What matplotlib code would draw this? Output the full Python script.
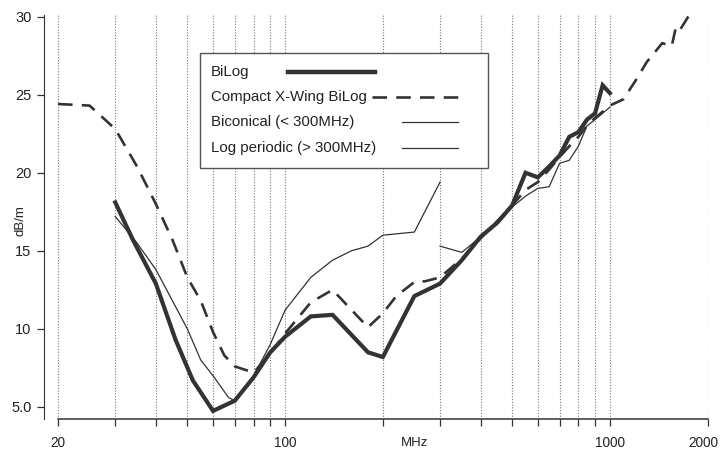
import numpy as np
import matplotlib
matplotlib.use("Agg")
import matplotlib.pyplot as plt
from matplotlib.lines import Line2D
from matplotlib.patches import Rectangle
from matplotlib.transforms import ScaledTranslation

plt.rcParams["font.family"] = ["Liberation Sans", "DejaVu Sans"]

# --- data (MHz, dB/m) ---
bilog_f = [30, 34, 40, 46, 52, 60, 70, 80, 90, 100, 120, 140, 180, 200, 250, 300,
           350, 400, 450, 500, 550, 600, 650, 700, 750, 800, 850, 900, 950, 1000]
bilog_db = [18.1, 15.7, 12.9, 9.3, 6.7, 4.75, 5.4, 6.9, 8.5, 9.5, 10.8, 10.9, 8.5, 8.2, 12.1, 12.9,
            14.4, 15.9, 16.8, 17.9, 20.0, 19.7, 20.4, 21.1, 22.3, 22.6, 23.4, 23.8, 25.6, 25.1]

xwing_f = [20, 25, 30, 35, 40, 45, 50, 55, 60, 65, 70, 80, 90, 100, 120, 140, 180, 200, 220,
           250, 270, 300, 350, 400, 450, 500, 550, 600, 650, 700, 750, 800, 850, 900, 1000,
           1100, 1200, 1300, 1450, 1550, 1600, 1650, 1780]
xwing_db = [24.4, 24.3, 22.8, 20.4, 18.0, 15.7, 13.3, 11.8, 9.8, 8.3, 7.6, 7.2, 8.4, 9.7, 11.7, 12.5, 10.1, 11.0, 12.1,
            13.0, 13.05, 13.3, 14.5, 15.8, 16.9, 17.9, 18.9, 19.4, 20.2, 21.0, 21.7, 22.3, 23.0, 23.5, 24.3,
            24.7, 25.9, 27.1, 28.3, 28.1, 29.4, 29.2, 30.3]

bicon_f = [30, 35, 40, 45, 50, 55, 60, 67, 70, 80, 90, 100, 120, 140, 160, 180, 200, 250, 300]
bicon_db = [17.2, 15.5, 13.8, 11.8, 10.0, 8.0, 7.0, 5.6, 5.4, 7.0, 9.0, 11.2, 13.3, 14.4, 15.0, 15.3, 16.0, 16.2, 19.4]

logper_f = [300, 350, 400, 450, 500, 550, 600, 650, 700, 750, 800, 850, 900, 1000]
logper_db = [15.3, 14.9, 15.9, 16.9, 17.8, 18.5, 19.0, 19.1, 20.6, 20.8, 21.7, 23.0, 23.4, 24.2]

legend_labels = ["BiLog", "Compact X-Wing BiLog", "Biconical (< 300MHz)", "Log periodic (> 300MHz)"]

xticks = [20, 30, 40, 50, 60, 70, 80, 90, 100, 200, 300, 400, 500, 600, 700, 800, 900, 1000, 2000]
xtick_labels = {20: "20", 100: "100", 1000: "1000", 2000: "2000"}
yticks = [5, 10, 15, 20, 25, 30]
ytick_labels = ["5.0", "10", "15", "20", "25", "30"]

INK = "#333333"
W, H = 721, 451

fig = plt.figure(figsize=(W / 100, H / 100), dpi=100)
ax = fig.add_axes([44 / W, 1 - 419 / H, 664 / W, 404 / H])

ax.plot(bilog_f, bilog_db, color=INK, lw=3.0, solid_joinstyle="miter", zorder=4)
ax.plot(xwing_f, xwing_db, color=INK, lw=1.9, dashes=(5.5, 3.5), zorder=3)
ax.plot(bicon_f, bicon_db, color=INK, lw=0.9, zorder=3)
ax.plot(logper_f, logper_db, color=INK, lw=0.9, zorder=3)

ax.set_xscale("log")
ax.set_xlim(18.1, 2005)
ax.set_ylim(4.23, 30.1)
ax.set_xticks(xticks)
ax.set_xticklabels([xtick_labels.get(t, "") for t in xticks])
ax.xaxis.set_minor_locator(matplotlib.ticker.NullLocator())
ax.set_yticks(yticks)
ax.set_yticklabels(ytick_labels)
ax.tick_params(axis="both", colors=INK, labelcolor="#222222", length=5, width=0.9)
ax.tick_params(axis="x", pad=7, labelsize=9.8)
ax.tick_params(axis="y", pad=4, labelsize=10.5)
# the last label sits right at the page edge, nudge it in a little
last = ax.get_xticklabels()[-1]
last.set_transform(last.get_transform() + ScaledTranslation(-4 / 100, 0, fig.dpi_scale_trans))

for t in xticks:
    ax.axvline(t, color="#777777", lw=0.8, ls=(0, (1, 1.5)), zorder=1)

for s in ("top", "right"):
    ax.spines[s].set_visible(False)
ax.spines["bottom"].set_bounds(20, 2000)
ax.spines["left"].set_color(INK)
ax.spines["bottom"].set_color(INK)
ax.spines["bottom"].set_linewidth(1.1)

ax.set_ylabel("dB/m", fontsize=9.5, color="#222222", va="center")
ax.yaxis.set_label_coords(-0.036, 0.49)
ax.text(250, -0.045, "MHz", transform=ax.get_xaxis_transform(), ha="center", va="top",
        fontsize=9.5, color="#222222")

# legend box drawn by hand: text left, sample lines right
def fx(px):
    return px / W

def fy(py):
    return 1 - py / H

fig.patches.append(Rectangle((fx(200), fy(168)), fx(488) - fx(200), fy(53) - fy(168),
                             transform=fig.transFigure, facecolor="white",
                             edgecolor="#555555", lw=1.0, zorder=5))
rows_y = [72, 97, 122, 148]
samples = [((288, 375), dict(lw=3.2)),
           ((372, 458), dict(lw=1.9, dashes=(5.5, 3.5))),
           ((402, 458), dict(lw=0.9)),
           ((402, 458), dict(lw=0.9))]
for label, yy, ((x0, x1), kw) in zip(legend_labels, rows_y, samples):
    fig.text(fx(211), fy(yy), label, ha="left", va="center", fontsize=10.8, color="#222222", zorder=6)
    fig.lines.append(Line2D([fx(x0), fx(x1)], [fy(yy), fy(yy)], transform=fig.transFigure,
                            color=INK, zorder=6, **kw))

fig.savefig("out.png", dpi=100)
